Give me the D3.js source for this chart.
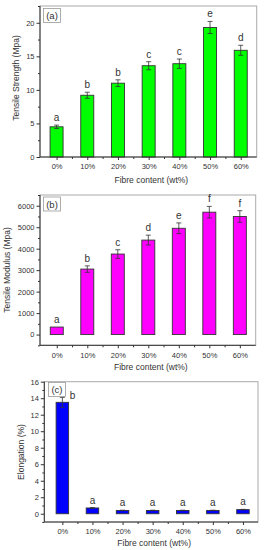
<!DOCTYPE html>
<html><head><meta charset="utf-8">
<script src="https://cdn.jsdelivr.net/npm/d3@7"></script>
<style>body{margin:0;background:#fff}svg{display:block}</style>
</head><body>
<svg id="c" width="265" height="550"></svg>
<script>
const categories = ["0%","10%","20%","30%","40%","50%","60%"];
const strength = [4.5, 9.2, 11.0, 13.6, 13.9, 19.3, 15.9];
const strengthErr = [0.25, 0.45, 0.5, 0.6, 0.7, 0.9, 0.75];
const strengthLetters = ["a","b","b","c","c","e","d"];
const modulus = [350, 3050, 3750, 4400, 4950, 5700, 5500];
const modulusErr = [0, 150, 200, 230, 250, 270, 270];
const modulusLetters = ["a","b","c","d","e","f","f"];
const elongation = [13.5, 0.7, 0.4, 0.4, 0.4, 0.4, 0.5];
const elongationErr = [0.6, 0.04, 0.03, 0.03, 0.03, 0.03, 0.03];
const elongationLetters = ["b","a","a","a","a","a","a"];
const strengthTicks = [0, 5, 10, 15, 20];
const modulusTicks = [0, 1000, 2000, 3000, 4000, 5000, 6000];
const elongationTicks = [0, 2, 4, 6, 8, 10, 12, 14, 16];

const svg = d3.select("#c");
const font = "Arial, 'Liberation Sans', sans-serif";
const txt = "#333";

function panel(o) {
  const g = svg.append("g");
  const x = d3.scaleLinear().domain(o.xd).range([o.l, o.r]);
  const y = d3.scaleLinear().domain(o.yd).range([o.b, o.t]);
  // frame
  g.append("rect").attr("x", o.l).attr("y", o.t).attr("width", o.r - o.l).attr("height", o.b - o.t)
    .attr("fill", "none").attr("stroke", "#aaa").attr("stroke-width", 1);
  // bars
  const idx = d3.range(categories.length);
  const bw = o.bw;
  g.selectAll("rect.bar").data(idx).join("rect").attr("class", "bar")
    .attr("x", i => x(i + 1) - bw / 2).attr("width", bw)
    .attr("y", i => y(o.vals[i])).attr("height", i => y(Math.max(0, o.yd[0])) - y(o.vals[i]) + (o.yd[0] < 0 ? 0 : 0))
    .attr("fill", o.color).attr("stroke", "#333").attr("stroke-width", 0.9);
  // fix bars to start at zero
  g.selectAll("rect.bar").attr("height", i => y(0) - y(o.vals[i]));
  // error bars
  idx.forEach(i => {
    const e = o.errs[i];
    if (e <= 0) return;
    const cx = x(i + 1), y1 = y(o.vals[i] + e), y0 = y(o.vals[i] - e);
    g.append("line").attr("x1", cx).attr("x2", cx).attr("y1", y1).attr("y2", y0).attr("stroke", "#333").attr("stroke-width", 0.8);
    [y1, y0].forEach(yy => g.append("line").attr("x1", cx - 2.5).attr("x2", cx + 2.5).attr("y1", yy).attr("y2", yy).attr("stroke", "#333").attr("stroke-width", 0.8));
  });
  // letters
  idx.forEach(i => {
    const top = y(o.vals[i] + o.errs[i]);
    let lx = x(i + 1), ly = top - 4;
    if (o.sideFirst && i === 0) { lx = x(i + 1) + bw / 2 + 4; ly = top + 2; }
    g.append("text").attr("x", lx).attr("y", ly).attr("text-anchor", "middle")
      .attr("font-family", font).attr("font-size", 10).attr("fill", txt).text(o.letters[i]);
  });
  // axes
  const ya = d3.axisLeft(y).tickValues(o.yt).tickSize(3.5).tickPadding(2).tickFormat(d3.format("d"));
  const yg = g.append("g").attr("transform", `translate(${o.l},0)`).call(ya);
  const minor = [];
  for (let k = 0; k < o.yt.length - 1; k++) minor.push((o.yt[k] + o.yt[k + 1]) / 2);
  if (o.yd[0] < o.yt[0]) minor.push(o.yt[0] - (o.yt[1] - o.yt[0]) / 2);
  minor.push(o.yt[o.yt.length - 1] + (o.yt[1] - o.yt[0]) / 2);
  g.append("g").attr("transform", `translate(${o.l},0)`).call(d3.axisLeft(y).tickValues(minor.filter(v => v >= o.yd[0] && v <= o.yd[1])).tickSize(2).tickFormat(""))
    .select(".domain").remove();
  const xa = d3.axisBottom(x).tickValues(idx.map(i => i + 1)).tickSize(3).tickPadding(4).tickFormat(d => categories[d - 1]);
  const xg = g.append("g").attr("transform", `translate(0,${o.b})`).call(xa);
  const xm = d3.range(1.5, 7.5, 1);
  g.append("g").attr("transform", `translate(0,${o.b})`).call(d3.axisBottom(x).tickValues(xm).tickSize(2).tickFormat(""))
    .select(".domain").remove();
  [yg, xg].forEach(a => {
    a.select(".domain").attr("stroke", "#333");
    a.selectAll(".tick line").attr("stroke", "#333");
    a.selectAll("text").attr("font-family", font).attr("font-size", 7.5).attr("fill", txt);
  });
  g.selectAll("g g.tick line").attr("stroke", "#333");
  xg.select(".domain").attr("d", `M${o.l},0H${o.r}`);
  yg.select(".domain").attr("d", `M0,${o.b}V${o.t}`);
  // labels
  g.append("text").attr("x", (o.l + o.r) / 2 + 3).attr("y", o.xlY).attr("text-anchor", "middle")
    .attr("font-family", font).attr("font-size", 8.5).attr("fill", txt).text("Fibre content (wt%)");
  g.append("text").attr("transform", `translate(${o.ylX},${o.ylY}) rotate(-90)`).attr("text-anchor", "middle")
    .attr("font-family", font).attr("font-size", 8.5).attr("fill", txt).text(o.ylab);
  // panel tag
  g.append("rect").attr("x", o.tag[0]).attr("y", o.tag[1]).attr("width", 17).attr("height", 14)
    .attr("fill", "#fff").attr("stroke", "#999").attr("stroke-width", 0.8);
  g.append("text").attr("x", o.tag[0] + 8.5).attr("y", o.tag[1] + 10.5).attr("text-anchor", "middle")
    .attr("font-family", font).attr("font-size", 9.5).attr("fill", txt).text(o.tagText);
}

panel({l: 40, r: 256.7, t: 6, b: 157, xd: [0.46, 7.52], yd: [0, 22.5], yt: strengthTicks,
  vals: strength, errs: strengthErr, letters: strengthLetters, color: "#00ff00", bw: 13,
  xlY: 183, ylX: 19, ylY: 78, ylab: "Tensile Strength (Mpa)", tag: [43.5, 8.5], tagText: "(a)"});
panel({l: 40, r: 255.7, t: 195, b: 345.3, xd: [0.45, 7.52], yd: [-500, 6500], yt: modulusTicks,
  vals: modulus, errs: modulusErr, letters: modulusLetters, color: "#ff00ff", bw: 13,
  xlY: 370, ylX: 10, ylY: 270, ylab: "Tensile Modulus (Mpa)", tag: [43.5, 197], tagText: "(b)"});
panel({l: 44.3, r: 258, t: 381.7, b: 522, xd: [0.4, 7.5], yd: [-1, 16], yt: elongationTicks,
  vals: elongation, errs: elongationErr, letters: elongationLetters, color: "#0000ff", bw: 12.5,
  xlY: 546, ylX: 24, ylY: 452, ylab: "Elongation (%)", tag: [48.5, 382.5], tagText: "(c)", sideFirst: true});
</script>
</body></html>
